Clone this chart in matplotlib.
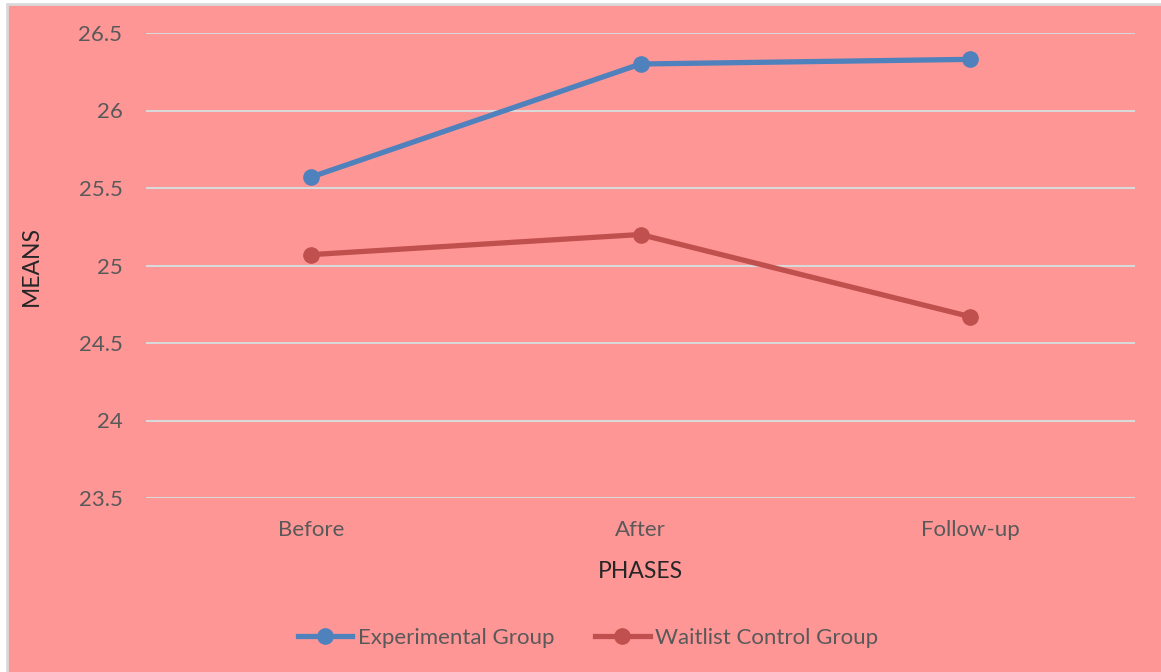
import matplotlib.pyplot as plt
from matplotlib.patches import Rectangle

# chart data
phases = ["Before", "After", "Follow-up"]
experimental = [25.57, 26.30, 26.33]
waitlist = [25.07, 25.20, 24.67]
y_ticks = [23.5, 24, 24.5, 25, 25.5, 26, 26.5]
y_tick_labels = ["23.5", "24", "24.5", "25", "25.5", "26", "26.5"]

bg = "#FF9696"
text_color = "#595959"
plt.rcParams['font.family'] = ['Lato', 'DejaVu Sans']

fig = plt.figure(figsize=(11.61, 6.72), dpi=100)
fig.patch.set_facecolor("white")

# pink chart area with thin grey frame
fig.patches.append(Rectangle((7 / 1161, -0.01), 1.02, 1 - 4 / 672 + 0.01,
                             transform=fig.transFigure, facecolor=bg,
                             edgecolor="#D9D9D9", linewidth=2, zorder=-5))

ax = fig.add_axes([146 / 1161, 1 - 498 / 672, (1135 - 146) / 1161, (498 - 33) / 672])
ax.set_facecolor(bg)
ax.patch.set_alpha(0)

x = range(len(phases))
ax.plot(x, experimental, color="#4F81BD", linewidth=3.8, marker="o",
        markersize=11, label="Experimental Group", zorder=3)
ax.plot(x, waitlist, color="#C0504D", linewidth=3.8, marker="o",
        markersize=11, label="Waitlist Control Group", zorder=3)

ax.set_xlim(-0.5, 2.5)
ax.set_ylim(23.5, 26.5)
ax.set_yticks(y_ticks)
ax.set_yticklabels(y_tick_labels)
ax.set_xticks(list(x))
ax.set_xticklabels(phases)
ax.grid(axis="y", color="#D9D9D9", linewidth=1.5)
ax.set_axisbelow(True)
for s in ax.spines.values():
    s.set_visible(False)
ax.tick_params(length=0, labelsize=16, labelcolor=text_color)
ax.tick_params(axis="y", pad=17)
ax.tick_params(axis="x", pad=16)

ax.set_ylabel("MEANS", fontsize=16.5, color="#262626", labelpad=26)
ax.set_xlabel("PHASES", fontsize=16.5, color="#262626", labelpad=15)

ax.legend(loc="center", bbox_to_anchor=(588 / 1161, 1 - 638 / 672),
          bbox_transform=fig.transFigure, ncol=2, frameon=False,
          fontsize=16, labelcolor=text_color, handlelength=2.45,
          handletextpad=0.25, columnspacing=1.85)

fig.savefig("out.png", dpi=100, facecolor=fig.get_facecolor())
